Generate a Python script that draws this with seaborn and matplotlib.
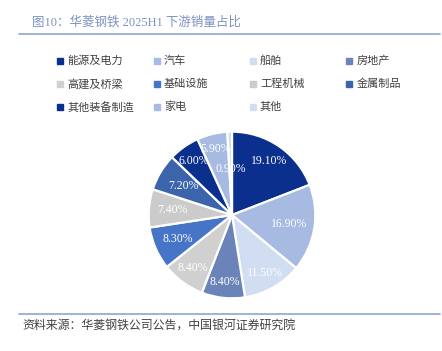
import matplotlib
matplotlib.use("Agg")
import matplotlib.pyplot as plt
from matplotlib.lines import Line2D
import numpy as np
import seaborn as sns

# downstream sales share, clockwise from 12 o'clock
labels = ['能源及电力', '汽车', '船舶', '房地产', '高建及桥梁', '基础设施',
          '工程机械', '金属制品', '其他装备制造', '家电', '其他']
shares = [19.1, 16.9, 11.5, 8.4, 8.4, 8.3, 7.4, 7.2, 6.0, 5.9, 0.9]
colors = ['#0b2f8c', '#a7bae2', '#d1ddf1', '#6a84ba', '#d0d0d0', '#4674c6',
          '#cbcbcb', '#3b64ab', '#0b2f8c', '#a7bae2', '#d1ddf1']
# how far out each data label sits (fraction of radius), as in the source chart
label_r = [0.78, 0.69, 0.80, 0.81, 0.79, 0.71, 0.72, 0.68, 0.79, 0.81, 0.55]

sns.set_theme(style='white')
plt.rcParams['font.family'] = ['Liberation Serif', 'Noto Sans CJK SC', 'DejaVu Sans']

fig = plt.figure(figsize=(4.42, 3.51), dpi=100)
ax = fig.add_axes([0.3326, 0.1453, 0.3846, 0.4843])

wedges, texts, autotexts = ax.pie(
    shares, colors=colors, startangle=90, counterclock=False,
    autopct='%.2f%%', pctdistance=0.72,
    wedgeprops=dict(edgecolor='white', linewidth=1.6),
    textprops=dict(color='white', fontsize=8.5))
for w, t, r in zip(wedges, autotexts, label_r):
    mid = np.deg2rad((w.theta1 + w.theta2) / 2)
    t.set_position((r * np.cos(mid), r * np.sin(mid)))
ax.set_xlim(-1.02, 1.02)
ax.set_ylim(-1.02, 1.02)
ax.set_aspect('equal')
ax.axis('off')

# legend: 4 columns, filled row by row
col_x = [60, 156.5, 252.5, 349]
row_y = [61, 84, 107]
W, H = 442, 351
for i, (lab, c) in enumerate(zip(labels, colors)):
    r, k = divmod(i, 4)
    x, y = col_x[k] / W, 1 - row_y[r] / H
    fig.add_artist(Line2D([x], [y], marker='s', linestyle='', markersize=4,
                          markerfacecolor=c, markeredgecolor=c))
    fig.text(x + 7.5 / W, y, lab, fontsize=8, color='#404040', va='center', ha='left')

# title and source
fig.text(32 / W, 1 - 22 / H, '图10：华菱钢铁 2025H1 下游销量占比', fontsize=9,
         color='#7d91c2', va='center', ha='left')
fig.add_artist(Line2D([19 / W, 440 / W], [1 - 34 / H] * 2, color='#8ea4d2', linewidth=1.2))
fig.add_artist(Line2D([19 / W, 440 / W], [1 - 314 / H] * 2, color='#8ea4d2', linewidth=1.2))
fig.text(22 / W, 1 - 326 / H, '资料来源：华菱钢铁公司公告，中国银河证券研究院', fontsize=8.6,
         color='#404040', style='italic', va='center', ha='left')

fig.savefig('out.png', dpi=100)
